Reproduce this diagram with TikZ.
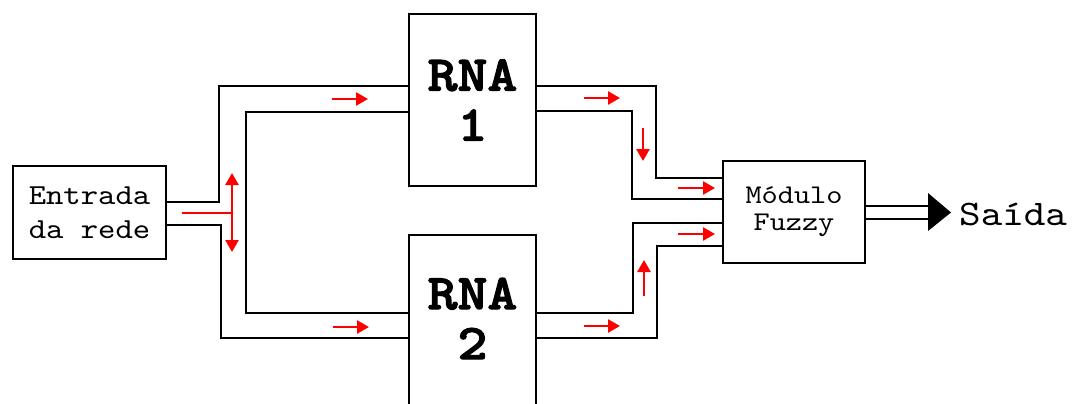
\documentclass[tikz,border=0pt]{standalone}
\usepackage{fontspec}
% typewriter faces, widened a little
\newfontfamily\twreg[FakeStretch=1.14]{lmmono10-regular.otf}
\newfontfamily\twbold[FakeStretch=1.14,FakeBold=2.2]{lmmonolt10-bold.otf}
\usetikzlibrary{arrows.meta}
\begin{document}
\begin{tikzpicture}[x=1pt,y=-1pt,
  blk/.style={draw=black,line width=2.8pt,inner sep=0pt,align=center},
  rail/.style={draw=black,line width=2.8pt},
  flow/.style={draw=red,line width=2.6pt,-{Triangle[length=12pt,width=13pt]}},
  flowtwo/.style={draw=red,line width=2.6pt,{Triangle[length=12pt,width=13pt]}-{Triangle[length=12pt,width=13pt]}}]
\useasboundingbox (0,0) rectangle (1082,404);

% blocks
\node[blk,minimum width=153pt,minimum height=93pt,
  font=\twreg\fontsize{29}{34}\selectfont] (entrada) at (89.5,212.5) {Entrada\\da rede};
\node[blk,minimum width=127pt,minimum height=172pt,
  font=\twbold\fontsize{50}{50}\selectfont] (rna1) at (472.5,100) {RNA\\1};
\node[blk,minimum width=127pt,minimum height=190pt] (rna2) at (472.5,330) {};
\node[inner sep=0pt,align=center,font=\twbold\fontsize{50}{50}\selectfont]
  (rna2label) at (472.5,318.5) {RNA\\2};
\node[blk,minimum width=142pt,minimum height=102pt,
  font=\twreg\fontsize{27}{27}\selectfont] (fuzzy) at (794,212) {Módulo\\Fuzzy};
\node[inner sep=0pt,anchor=base west,font=\twreg\fontsize{36}{36}\selectfont]
  (saida) at (959,225) {Saída};

% rails from the input to the two networks
\draw[rail] ([yshift=10.5pt]entrada.east) -| (219,86) -- ([yshift=14pt]rna1.west);
\draw[rail] ([yshift=-12.5pt]entrada.east) -| (221,338) -- ([yshift=-8pt]rna2.west);
\draw[rail] ([yshift=-12pt]rna1.west) -| (246,313) -- ([yshift=17pt]rna2.west);

% rails from the networks to the fuzzy module
\draw[rail] ([yshift=14pt]rna1.east) -| (656,178) -- ([yshift=34pt]fuzzy.west);
\draw[rail] ([yshift=-11pt]rna1.east) -| (632,199) -- ([yshift=13pt]fuzzy.west);
\draw[rail] ([yshift=-11pt]fuzzy.west) -| (633,313) -- ([yshift=17pt]rna2.east);
\draw[rail] ([yshift=-34pt]fuzzy.west) -| (657,338) -- ([yshift=-8pt]rna2.east);

% output
\coordinate (outbase) at (928,212.5);
\draw[line width=2.6pt,double=white,double distance=10.5pt]
  (fuzzy.east |- outbase) -- (outbase);
\fill[black] (928,193) -- (951,212.5) -- (928,231) -- cycle;

% signal flow marks
\draw[draw=red,line width=2.6pt] (182,213) -- (232,213);
\draw[flowtwo] (232,173) -- (232,252);
\draw[flow] (332,99) -- (368,99);
\draw[flow] (333,327) -- (369,327);
\draw[flow] (584,98) -- (620,98);
\draw[flow] (643,128) -- (643,161);
\draw[flow] (678,188) -- (715,188);
\draw[flow] (678,234) -- (715,234);
\draw[flow] (644,296) -- (644,260);
\draw[flow] (584,326) -- (620,326);
\end{tikzpicture}
\end{document}
